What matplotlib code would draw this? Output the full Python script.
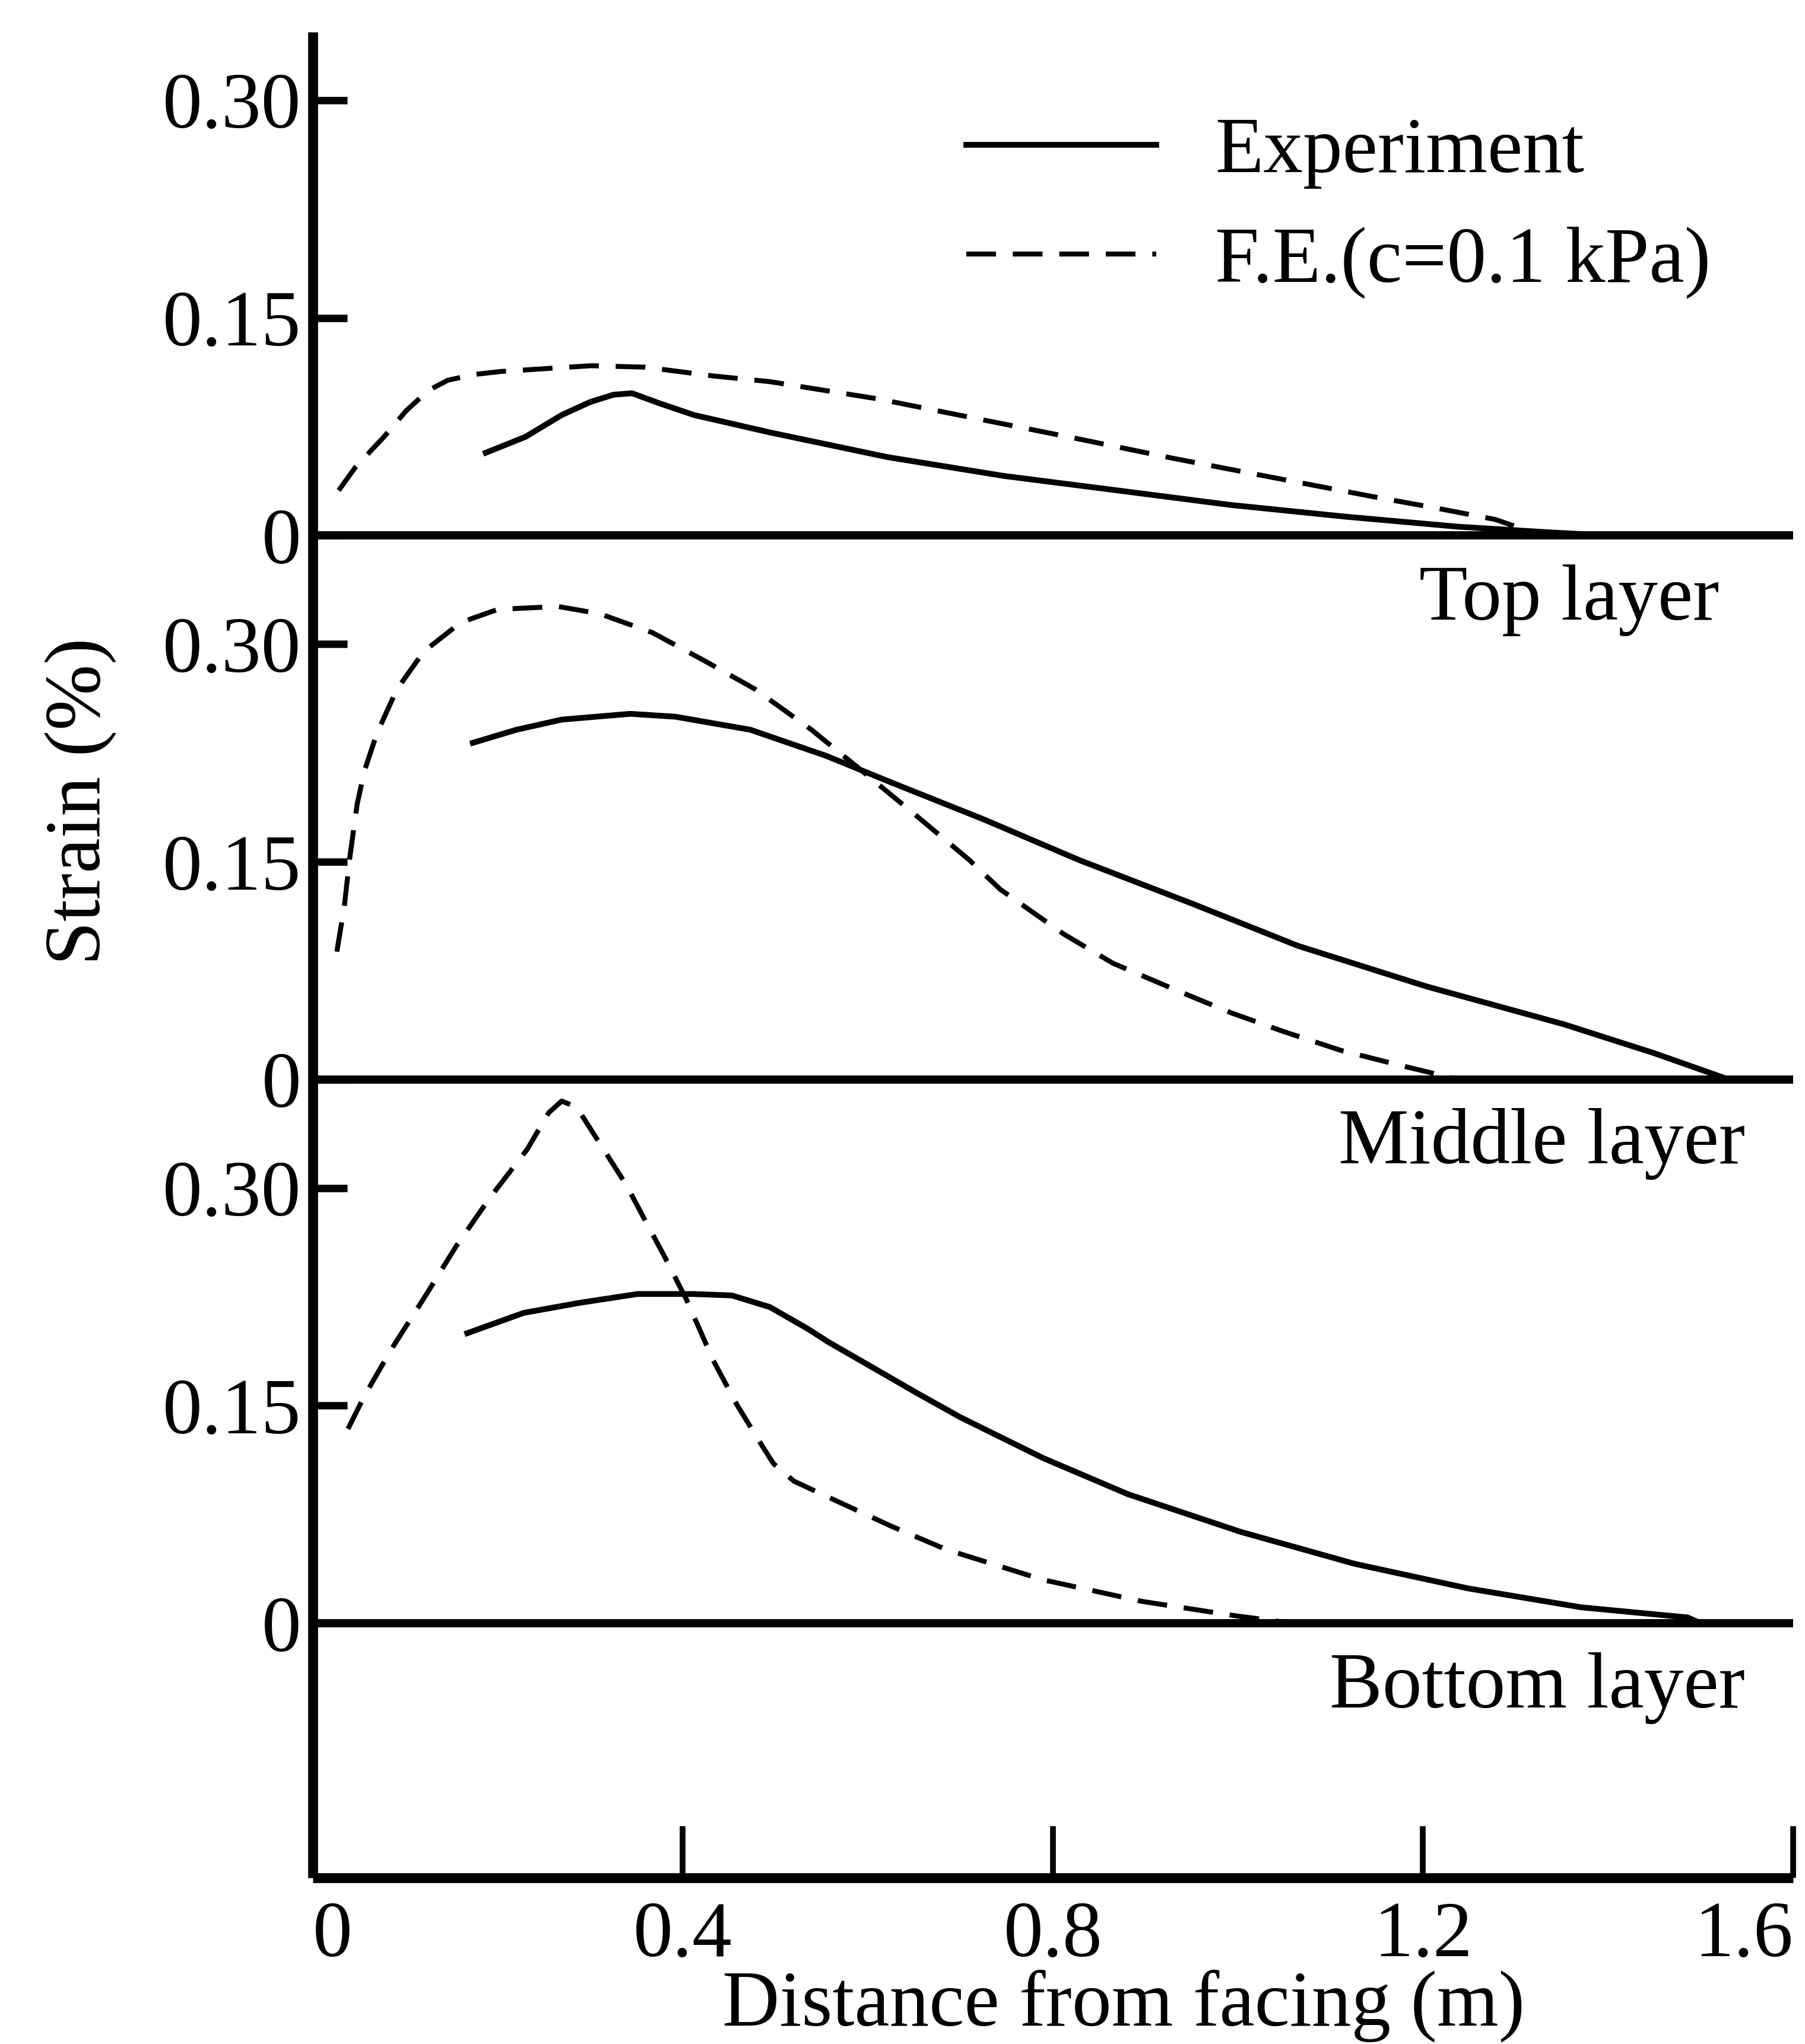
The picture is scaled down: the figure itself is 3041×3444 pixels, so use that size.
import matplotlib
matplotlib.use('Agg')
import matplotlib.pyplot as plt

plt.rcParams['font.family'] = ['Liberation Serif', 'DejaVu Serif']

# ---------------- data ----------------
layers = ['Top layer', 'Middle layer', 'Bottom layer']
offsets = [0.75, 0.375, 0.0]          # vertical stacking of the three panels
ytick_vals = [0.0, 0.15, 0.30]
ytick_labels = ['0', '0.15', '0.30']
xtick_vals = [0.0, 0.4, 0.8, 1.2, 1.6]
xtick_labels = ['0', '0.4', '0.8', '1.2', '1.6']

# Top layer
top_exp_x = [0.187, 0.23, 0.269, 0.30, 0.325, 0.345, 0.375, 0.412, 0.494, 0.621,
             0.747, 0.870, 0.992, 1.115, 1.238, 1.339, 1.40]
top_exp_y = [0.057, 0.068, 0.083, 0.092, 0.097, 0.098, 0.091, 0.083, 0.071, 0.054,
             0.041, 0.031, 0.021, 0.013, 0.006, 0.002, 0.0]
top_fe_x = [0.028, 0.046, 0.077, 0.101, 0.125, 0.146, 0.175, 0.203, 0.301, 0.359,
            0.432, 0.494, 0.612, 0.706, 0.824, 0.931, 1.037, 1.152, 1.213, 1.278,
            1.319, 1.36]
top_fe_y = [0.031, 0.047, 0.068, 0.086, 0.100, 0.107, 0.111, 0.113, 0.117, 0.116,
            0.110, 0.106, 0.094, 0.082, 0.067, 0.053, 0.040, 0.026, 0.019, 0.011,
            0.002, 0.0]

# Middle layer
mid_exp_x = [0.173, 0.22, 0.269, 0.343, 0.392, 0.473, 0.555, 0.624, 0.726, 0.829,
             0.951, 1.065, 1.204, 1.352, 1.45, 1.53]
mid_exp_y = [0.232, 0.241, 0.248, 0.252, 0.250, 0.241, 0.223, 0.205, 0.179, 0.151,
             0.121, 0.092, 0.064, 0.038, 0.018, 0.0]
mid_fe_x = [0.026, 0.034, 0.040, 0.048, 0.056, 0.069, 0.081, 0.091, 0.120, 0.160,
            0.200, 0.265, 0.310, 0.367, 0.425, 0.478, 0.539, 0.591, 0.650, 0.710,
            0.743, 0.812, 0.865, 0.935, 0.992, 1.049, 1.111, 1.173, 1.238]
mid_fe_y = [0.088, 0.119, 0.153, 0.190, 0.213, 0.238, 0.255, 0.269, 0.295, 0.315,
            0.324, 0.326, 0.321, 0.308, 0.288, 0.269, 0.241, 0.214, 0.183, 0.151,
            0.131, 0.100, 0.080, 0.061, 0.046, 0.033, 0.020, 0.010, 0.0]

# Bottom layer
bot_exp_x = [0.167, 0.228, 0.289, 0.351, 0.412, 0.453, 0.494, 0.535, 0.557, 0.606,
             0.655, 0.700, 0.789, 0.881, 1.003, 1.126, 1.249, 1.371, 1.486, 1.50]
bot_exp_y = [0.200, 0.214, 0.221, 0.227, 0.227, 0.226, 0.218, 0.203, 0.194, 0.176,
             0.158, 0.142, 0.114, 0.089, 0.063, 0.041, 0.024, 0.011, 0.004, 0.0]
bot_fe_x = [0.038, 0.056, 0.085, 0.122, 0.155, 0.191, 0.232, 0.255, 0.269, 0.285,
            0.314, 0.339, 0.359, 0.380, 0.404, 0.433, 0.459, 0.486, 0.498, 0.520,
            0.557, 0.625, 0.684, 0.789, 0.897, 0.999, 1.06]
bot_fe_y = [0.134, 0.157, 0.189, 0.226, 0.260, 0.293, 0.327, 0.352, 0.360, 0.356,
            0.327, 0.302, 0.278, 0.253, 0.223, 0.181, 0.150, 0.122, 0.110, 0.098,
            0.087, 0.067, 0.051, 0.030, 0.015, 0.005, 0.0]

exp_x = [top_exp_x, mid_exp_x, bot_exp_x]
exp_y = [top_exp_y, mid_exp_y, bot_exp_y]
fe_x = [top_fe_x, mid_fe_x, bot_fe_x]
fe_y = [top_fe_y, mid_fe_y, bot_fe_y]

legend_labels = ['Experiment', 'F.E.(c=0.1 kPa)']

# ---------------- figure ----------------
FS = 96
fig = plt.figure(figsize=(30.41, 34.44), dpi=100)
ax = fig.add_axes([0.1733, 0.0813, 0.8201, 0.903])
ax.set_xlim(0, 1.6)
ax.set_ylim(-0.1755, 1.097)

for sp in ['top', 'right']:
    ax.spines[sp].set_visible(False)
for sp in ['left', 'bottom']:
    ax.spines[sp].set_linewidth(12)
    ax.spines[sp].set_capstyle('butt')

dash = (0, (6.0, 3.4))
h_exp = h_fe = None
for i, off in enumerate(offsets):
    ax.axhline(off, color='black', lw=10, zorder=2)
    h_exp, = ax.plot(exp_x[i], [v + off for v in exp_y[i]], color='black', lw=7,
                     solid_joinstyle='round', zorder=3)
    h_fe, = ax.plot(fe_x[i], [v + off for v in fe_y[i]], color='black', lw=6,
                    linestyle=dash, zorder=3)
    ax.text(1.548 if i else 1.520, off - 0.058, layers[i], fontsize=FS,
            ha='right', va='baseline')

# ticks
yt, yl = [], []
for off in offsets:
    for v, l in zip(ytick_vals, ytick_labels):
        yt.append(off + v)
        yl.append(l)
ax.set_yticks(yt)
ax.set_yticklabels(yl, fontsize=FS)
ax.set_xticks(xtick_vals)
ax.set_xticklabels(xtick_labels, fontsize=FS)
ax.tick_params(axis='y', direction='in', length=42, width=9, pad=14)
ax.tick_params(axis='x', direction='in', length=63, width=7, pad=28)
xlabels = ax.get_xticklabels()
xlabels[0].set_horizontalalignment('left')
xlabels[-1].set_horizontalalignment('right')

# legend
ax.legend([h_exp, h_fe], legend_labels, loc='upper left',
          bbox_to_anchor=(0.4415, 0.954), frameon=False, fontsize=FS,
          handlelength=2.4, handletextpad=0.74, labelspacing=0.47,
          borderpad=0, borderaxespad=0)

fig.text(0.0447, 0.608, 'Strain (%)', rotation=90, fontsize=FS,
         ha='center', va='center')
fig.text(0.6225, 0.001, 'Distance from facing (m)', fontsize=FS,
         ha='center', va='bottom')

fig.savefig('out.png', dpi=100, facecolor='white')
